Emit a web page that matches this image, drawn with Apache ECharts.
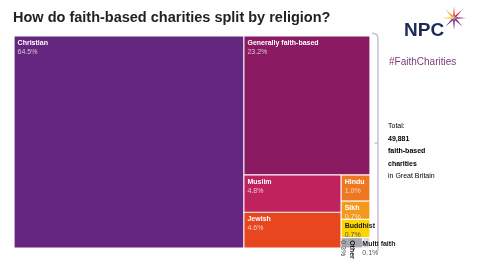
<!DOCTYPE html>
<html><head><meta charset="utf-8">
<script src="https://cdn.jsdelivr.net/npm/echarts@6/dist/echarts.min.js"></script>
<style>html,body{margin:0;padding:0;background:#fff}#c{width:480px;height:270px}</style>
</head><body><div id="c"></div>
<script>
// Data (share of faith-based charities, %)
var categories = ['Christian','Generally faith-based','Muslim','Jewish','Hindu','Sikh','Buddhist','Other','Multi faith'];
var shares = [64.5, 23.2, 4.8, 4.6, 1.0, 0.7, 0.7, 0.3, 0.1];
var palette = ['#65267f','#8a1a62','#c0225e','#e8461e','#ee7722','#f39a1e','#fdd500','#a6a6ae','#d9d9de'];
var totalLines = ['Total:', '49,881', 'faith-based', 'charities', 'in Great Britain'];
var titleText = 'How do faith-based charities split by religion?';
var hashtag = '#FaithCharities';

var FONT = 'Arial, "Liberation Sans", sans-serif';
function leaf(i) {
  var c = categories[i];
  var darkText = (c === 'Buddhist' || c === 'Other' || c === 'Multi faith');
  var d = {
    name: c, value: shares[i],
    itemStyle: { color: palette[i], borderWidth: 0.6, borderColor: 'rgba(255,255,255,0.35)' },
    label: {
      overflow: 'none',
      padding: [2, 3, -14, 3],
      rich: {
        n: { fontSize: 7, fontWeight: 'bold', color: darkText ? '#1a1a1a' : '#fff', fontFamily: FONT, lineHeight: 9 },
        v: { fontSize: 7, color: darkText ? '#555' : 'rgba(255,255,255,0.72)', fontFamily: FONT, lineHeight: 9 }
      }
    }
  };
  if (c === 'Other') {
    d.label.rotate = -90;
    d.label.position = [15, 2];
    d.label.padding = [0, 0, -40, 0];
  }
  if (c === 'Multi faith') {
    d.label.position = [-1, 1];
    d.label.padding = [0, 0, -30, 0];
  }
  return d;
}
function group(children) {
  return { name: '', children: children, itemStyle: { borderWidth: 0, gapWidth: 0, borderColor: 'transparent' } };
}
// Top-level blocks plus the column of small religions
var data = [
  leaf(0), leaf(1), leaf(2), leaf(3),
  group([leaf(4), leaf(5), group([leaf(6), group([leaf(7), leaf(8)])])])
];

var starCx = 454, starCy = 18;
var starColors = ['#e8461e','#c0225e','#8a1a62','#65267f','#4a1f6e','#7a2c8c','#fdc300','#f39a1e'];
var star = starColors.map(function (col, i) {
  var a = -Math.PI / 2 + i * Math.PI / 4;
  var r = 12, w = 0.3;
  return {
    type: 'polygon', z: 10,
    shape: { points: [
      [starCx + Math.cos(a - w) * 2.8, starCy + Math.sin(a - w) * 2.8],
      [starCx + Math.cos(a) * r, starCy + Math.sin(a) * r],
      [starCx + Math.cos(a + w) * 2.8, starCy + Math.sin(a + w) * 2.8],
      [starCx, starCy]
    ] },
    style: { fill: col }
  };
});

var chart = echarts.init(document.getElementById('c'));
chart.setOption({
  animation: false,
  title: {
    text: titleText, left: 13, top: 10, padding: 0,
    textStyle: { fontSize: 14.5, fontWeight: 'bold', color: '#222', fontFamily: FONT }
  },
  graphic: [
    { type: 'text', left: 404, top: 21, style: { text: 'NPC', fontSize: 19, fontWeight: 'bold', fill: '#1d2b57', fontFamily: FONT } },
    { type: 'text', left: 389, top: 57, style: { text: hashtag, fontSize: 10, fill: '#7b3a78', fontFamily: FONT } },
    { type: 'polyline', shape: { points: [[372, 33], [377, 34.5], [378, 38], [378, 251]] }, style: { stroke: '#c9bdd2', lineWidth: 1.5, fill: null } },
    { type: 'line', shape: { x1: 374.5, y1: 143, x2: 378, y2: 143 }, style: { stroke: '#c9bdd2', lineWidth: 1.5 } },
    { type: 'text', left: 388, top: 123, style: {
      text: '{a|' + totalLines[0] + '}\n{b|' + totalLines[1] + '}\n{b|' + totalLines[2] + '}\n{b|' + totalLines[3] + '}\n{a|' + totalLines[4] + '}',
      rich: {
        a: { fontSize: 7, color: '#555', lineHeight: 12.5, fontFamily: FONT },
        b: { fontSize: 7, fontWeight: 'bold', color: '#222', lineHeight: 12.5, fontFamily: FONT }
      } } }
  ].concat(star),
  series: [{
    type: 'treemap',
    left: 14, top: 36, width: 356, height: 212,
    roam: false, nodeClick: false, sort: false,
    breadcrumb: { show: false },
    squareRatio: 1.5,
    emphasis: { disabled: true },
    itemStyle: { borderWidth: 0, gapWidth: 0, borderColor: 'transparent' },
    label: {
      show: true, position: 'insideTopLeft',
      formatter: function (p) { return '{n|' + p.name + '}\n{v|' + Number(p.value).toFixed(1) + '%}'; }
    },
    upperLabel: { show: false },
    data: data
  }]
});
</script></body></html>
